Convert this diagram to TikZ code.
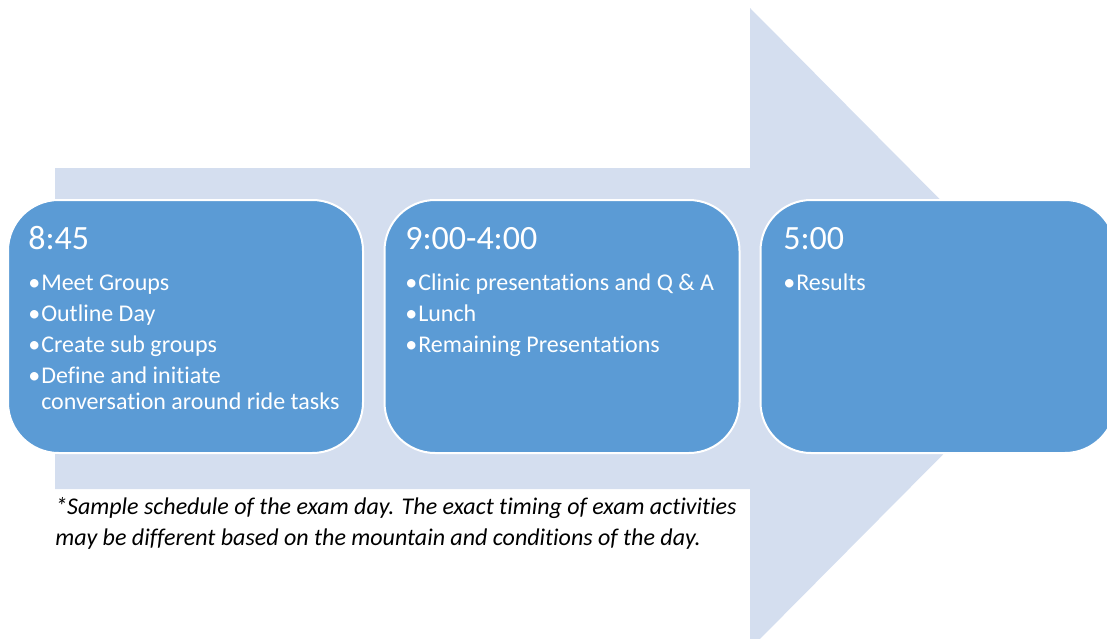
\documentclass[tikz,border=0pt]{standalone}
\usepackage{fontspec}
\setmainfont{Carlito}[RawFeature={-liga}]
\definecolor{arrowc}{HTML}{D4DEEF}
\definecolor{boxc}{HTML}{5B9BD5}
\newcommand{\bul}{\makebox[9.75pt][l]{•}}
\begin{document}
\begin{tikzpicture}[x=0.75pt,y=-0.75pt,
  stagebox/.style={draw=white, line width=1.5pt, fill=boxc, rounded corners=38pt,
    minimum width=266.25pt, minimum height=189.75pt, inner sep=0pt},
  title/.style={anchor=base west, inner sep=0pt, text=white, font=\fontsize{25.5}{31}\selectfont},
  item/.style={anchor=base west, inner sep=0pt, text=white, font=\fontsize{18}{22}\selectfont},
  note/.style={anchor=base west, inner sep=0pt, text=black, font=\itshape\fontsize{18}{23}\selectfont}]
\useasboundingbox (0,0) rectangle (1107,639);
\clip (0,0) rectangle (1107,639);
% big arrow
\fill[arrowc] (55,168) -- (750,168) -- (750,8) -- (1068,328.5) -- (750,649) -- (750,489) -- (55,489) -- cycle;
% boxes
\node[stagebox] (b1) at (185.5,326.5) {};
\node[stagebox] (b2) at (562,326.5) {};
\node[stagebox] (b3) at (938,326.5) {};
% box 1
\node[title] (t1) at (28,249) {8:45};
\node[item] (i11) at (28,290) {\bul Meet Groups};
\node[item] (i12) at (28,321) {\bul Outline Day};
\node[item] (i13) at (28,352) {\bul Create sub groups};
\node[item] (i14) at (28,383) {\bul Define and initiate};
\node[item] (i15) at (41,409) {conversation around ride tasks};
% box 2
\node[title] (t2) at (405,249) {9:00-4:00};
\node[item] (i21) at (405,290) {\bul Clinic presentations and Q \& A};
\node[item] (i22) at (405,321) {\bul Lunch};
\node[item] (i23) at (405,352) {\bul Remaining Presentations};
% box 3
\node[title] (t3) at (783,249) {5:00};
\node[item] (i31) at (783,290) {\bul Results};
% note
\node[note] (n1) at (55,514) {*Sample schedule of the exam day. The exact timing of exam activities};
\node[note] (n2) at (55,545) {may be different based on the mountain and conditions of the day.};
\end{tikzpicture}
\end{document}
